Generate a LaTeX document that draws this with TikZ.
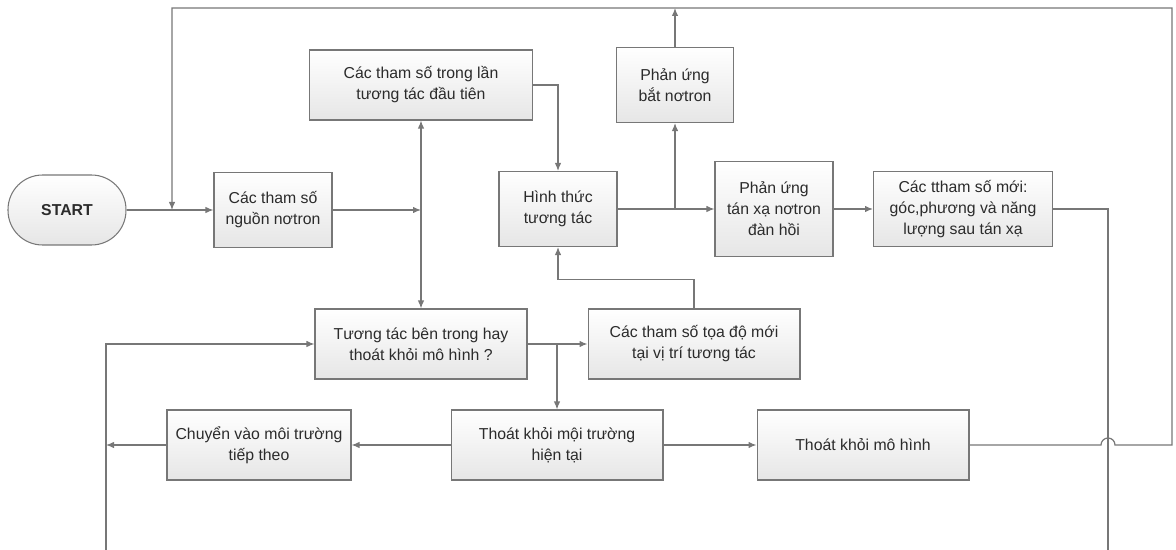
\documentclass[tikz,border=0pt]{standalone}
\usepackage{fontspec}
\setmainfont{Liberation Sans}
\usepackage{tikz}
\usetikzlibrary{arrows.meta, positioning}
\definecolor{lnc}{HTML}{777777}
\definecolor{boxbot}{HTML}{E6E6E6}
\definecolor{txt}{HTML}{2B2B2B}
\tikzset{
    pbox/.style={rectangle, draw=lnc, line width=0.6pt, top color=white, bottom color=boxbot, text=txt, align=center, font=\fontsize{9}{12}\selectfont},
    snode/.style={pbox, rounded corners=0.69cm, font=\fontsize{9}{12}\selectfont\bfseries},
    conn/.style={draw=lnc, line width=0.7pt, -{Latex[length=1.6mm, width=1.3mm]}},
    wire/.style={draw=lnc, line width=0.7pt},
}

\begin{document}
\begin{tikzpicture}[x=0.02cm, y=-0.02cm]
    \useasboundingbox (0,0) rectangle (1176,550);
    \node[snode, minimum width=2.36cm, minimum height=1.4cm] (start) at (67,210) {START};
    \node[pbox, minimum width=2.36cm, minimum height=1.5cm] (src) at (273,210) {Các tham số\\nguồn nơtron};
    \node[pbox, minimum width=4.46cm, minimum height=1.4cm] (first) at (421,85) {Các tham số trong lần\\tương tác đầu tiên};
    \node[pbox, minimum width=2.36cm, minimum height=1.5cm] (type) at (558,209) {Hình thức\\tương tác};
    \node[pbox, minimum width=2.34cm, minimum height=1.5cm] (capture) at (675,85) {Phản ứng\\bắt nơtron};
    \node[pbox, minimum width=2.36cm, minimum height=1.9cm] (elastic) at (774,209) {Phản ứng\\tán xạ nơtron\\đàn hồi};
    \node[pbox, minimum width=3.58cm, minimum height=1.5cm] (newpar) at (963,209) {Các ttham số mới:\\góc,phương và năng\\lượng sau tán xạ};
    \node[pbox, minimum width=4.24cm, minimum height=1.4cm] (inside) at (421,344) {Tương tác bên trong hay\\thoát khỏi mô hình ?};
    \node[pbox, minimum width=4.24cm, minimum height=1.4cm] (coords) at (694,344) {Các tham số tọa độ mới\\tại vị trí tương tác};
    \node[pbox, minimum width=3.68cm, minimum height=1.4cm] (next) at (259,445) {Chuyển vào môi trường\\tiếp theo};
    \node[pbox, minimum width=4.24cm, minimum height=1.4cm] (exitenv) at (557,445) {Thoát khỏi mội trường\\hiện tại};
    \node[pbox, minimum width=4.24cm, minimum height=1.4cm] (exitmodel) at (863,445) {Thoát khỏi mô hình};

    \coordinate (tl) at (172,8);
    \coordinate (tr) at (1172,8);
    \coordinate (rdown) at (1108,550);
    \coordinate (ldown) at (106,550);

    \draw[conn] (start) -- (src);
    \draw[conn] (src.east) -- (src.east -| first.south);
    \draw[conn, {Latex[length=1.6mm, width=1.3mm]}-{Latex[length=1.6mm, width=1.3mm]}] (first.south) -- (inside.north);
    \draw[conn] (first.east) -| (type.north);
    \draw[conn] (type) -- (elastic);
    \draw[conn] (type.east -| capture.south) -- (capture.south);
    \draw[conn] (elastic) -- (newpar);
    \draw[wire] (newpar.east) -| (rdown);
    \draw[conn] (capture.north) -- (capture.north |- tr);
    % loop back to the start line, jumping over the right wire
    \draw[conn] (exitmodel.east) -- (1101,445) arc (180:360:7) -- (tr |- exitmodel.east) -- (tr) -- (tl) -- (tl |- start.east);
    \draw[conn] (inside) -- (coords);
    \draw[conn] (inside.east -| exitenv.north) -- (exitenv.north);
    \draw[conn] (coords.north) -- ++(0,-29) -| (type.south);
    \draw[conn] (ldown) |- (inside.west);
    \draw[conn] (exitenv) -- (next);
    \draw[conn] (exitenv) -- (exitmodel);
    \draw[conn] (next.west) -- (next.west -| ldown);
\end{tikzpicture}
\end{document}
